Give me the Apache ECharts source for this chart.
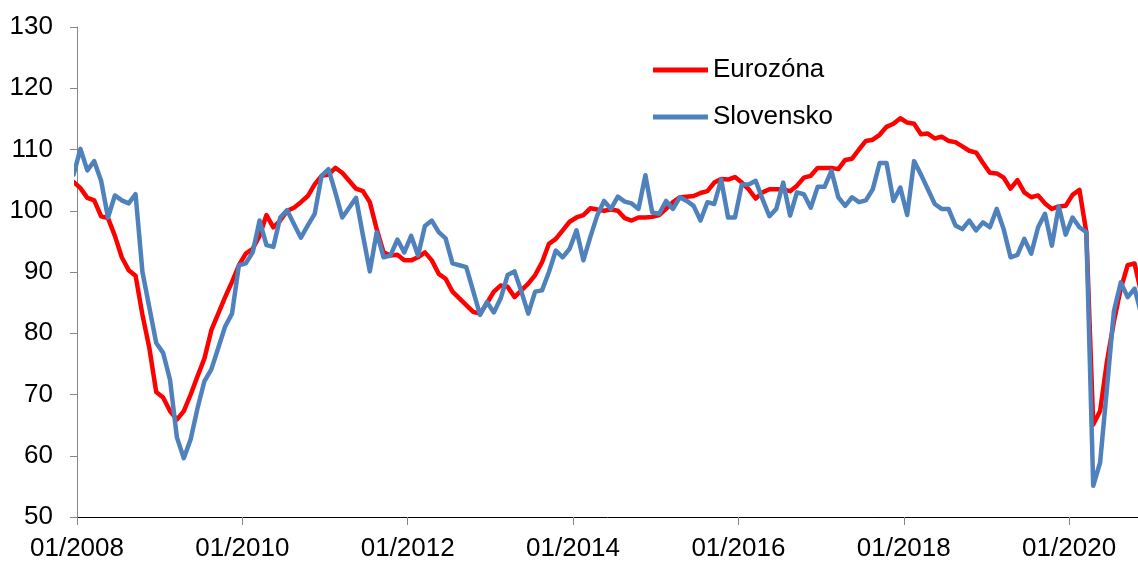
<!DOCTYPE html>
<html>
<head>
<meta charset="utf-8">
<script src="https://cdn.jsdelivr.net/npm/echarts@6/dist/echarts.min.js"></script>
<style>
  html, body { margin: 0; padding: 0; background: #fff; }
  #chart { width: 1138px; height: 562px; }
</style>
</head>
<body>
<div id="chart"></div>
<script>
// monthly values, first entry = 12/2007 (clipped at the y axis), last = 11/2020
const firstYear = 2007
const firstMonth = 12

const eurozona = [
  104.7,
  103.7, 102.1, 101.7, 99.1, 98.8, 95.9, 92.4, 90.3, 89.4, 83.0, 77.6, 70.4,
  69.5, 67.3, 65.9, 67.3, 70.0, 73.0, 75.9, 80.5, 83.2, 85.9, 88.4, 91.1,
  93.0, 93.8, 95.9, 99.3, 97.3, 98.4, 100.0, 100.5, 101.4, 102.4, 104.3, 105.7,
  105.9, 107.0, 106.2, 104.9, 103.6, 103.2, 101.4, 97.0, 93.2, 92.7, 92.8, 91.9,
  91.9, 92.4, 93.2, 91.9, 89.7, 88.9, 86.8, 85.7, 84.6, 83.5, 83.2, 84.9,
  86.8, 87.8, 87.6, 85.9, 87.0, 88.1, 89.5, 91.6, 94.6, 95.4, 96.8, 98.2,
  98.9, 99.3, 100.4, 100.2, 100.0, 100.2, 100.0, 98.8, 98.4, 98.9, 98.9, 99.0,
  99.3, 100.3, 101.4, 102.2, 102.3, 102.4, 102.9, 103.2, 104.6, 105.2, 105.1, 105.5,
  104.6, 103.5, 102.0, 103.0, 103.5, 103.5, 103.5, 103.2, 104.1, 105.4, 105.7, 107.0,
  107.0, 107.0, 106.8, 108.3, 108.5, 110.0, 111.4, 111.6, 112.4, 113.7, 114.2, 115.1,
  114.4, 114.2, 112.5, 112.6, 111.8, 112.1, 111.4, 111.2, 110.5, 109.8, 109.5, 107.8,
  106.2, 106.1, 105.4, 103.6, 105.0, 103.0, 102.2, 102.5, 101.2, 100.3, 100.7, 100.8,
  102.6, 103.4, 96.5, 65.1, 67.3, 75.4, 81.9, 87.3, 91.1, 91.4, 86.4
]

const slovensko = [
  105.9,
  110.1, 106.6, 108.1, 104.9, 98.9, 102.5, 101.7, 101.2, 102.7, 90.0, 84.2, 78.4,
  76.8, 72.4, 63.0, 59.6, 62.7, 67.8, 72.2, 74.1, 77.6, 81.1, 83.2, 91.1,
  91.4, 93.2, 98.4, 94.4, 94.1, 98.9, 100.1, 97.8, 95.6, 97.6, 99.5, 105.7,
  106.8, 103.0, 98.9, 100.5, 102.1, 96.0, 90.1, 96.5, 92.4, 92.7, 95.3, 93.2,
  95.9, 92.7, 97.5, 98.4, 96.5, 95.5, 91.4, 91.1, 90.8, 86.9, 83.0, 85.1,
  83.4, 85.7, 89.5, 90.1, 86.8, 83.2, 86.8, 87.0, 90.0, 93.5, 92.4, 93.8,
  96.8, 91.9, 95.7, 99.2, 101.6, 100.3, 102.3, 101.5, 101.2, 100.3, 105.8, 99.7,
  99.5, 101.6, 100.3, 102.2, 101.6, 100.8, 98.4, 101.4, 101.1, 105.1, 98.9, 98.9,
  104.3, 104.3, 104.9, 101.9, 99.1, 100.3, 104.6, 99.2, 103.0, 102.7, 100.5, 103.9,
  103.9, 106.5, 102.2, 100.8, 102.2, 101.4, 101.7, 103.5, 107.8, 107.8, 101.6, 103.8,
  99.3, 108.1, 105.9, 103.5, 101.1, 100.3, 100.3, 97.6, 97.0, 98.4, 96.8, 98.1,
  97.3, 100.3, 97.0, 92.4, 92.8, 95.4, 93.0, 97.3, 99.5, 94.3, 100.7, 96.1,
  98.9, 97.3, 96.5, 55.1, 58.9, 71.1, 83.6, 88.3, 85.9, 87.3, 83.0
]

const tickYears = [2008, 2010, 2012, 2014, 2016, 2018, 2020]
const yTicks = [50, 60, 70, 80, 90, 100, 110, 120, 130]

// x = months since 01/2008, each value placed mid-month
const monthPos = (k) => (firstYear - 2008) * 12 + (firstMonth - 1) + k + 0.5
const toPoints = (arr) => arr.map((v, k) => [monthPos(k), v])

const font = 'Liberation Sans, Arial, sans-serif'
const chart = echarts.init(document.getElementById('chart'))

chart.setOption({
  backgroundColor: '#fff',
  animation: false,
  grid: { left: 77, right: 0, top: 27, bottom: 42, containLabel: false },
  legend: {
    orient: 'vertical',
    left: 653,
    top: 57,
    padding: 0,
    itemGap: 21,
    itemWidth: 55,
    itemHeight: 5,
    icon: 'rect',
    textStyle: { fontFamily: font, fontSize: 26, color: '#000', lineHeight: 26 },
    data: ['Eurozóna', 'Slovensko']
  },
  xAxis: {
    type: 'value',
    min: 0,
    max: 154,
    interval: 24,
    splitLine: { show: false },
    axisLine: { show: true, lineStyle: { color: '#000', width: 1 } },
    axisTick: { show: true, length: 8, lineStyle: { color: '#868686' } },
    axisLabel: {
      showMaxLabel: false,
      margin: 19,
      fontFamily: font,
      fontSize: 26,
      color: '#000',
      formatter: (v) => {
        const y = 2008 + v / 12
        return tickYears.includes(y) ? '01/' + y : ''
      }
    }
  },
  yAxis: {
    type: 'value',
    min: yTicks[0],
    max: yTicks[yTicks.length - 1],
    interval: 10,
    splitLine: { show: false },
    axisLine: { show: true, lineStyle: { color: '#868686', width: 1 } },
    axisTick: { show: true, length: 7, lineStyle: { color: '#868686' } },
    axisLabel: { margin: 24, fontFamily: font, fontSize: 26, color: '#000' }
  },
  series: [
    {
      name: 'Eurozóna',
      type: 'line',
      data: toPoints(eurozona),
      showSymbol: false,
      symbol: 'none',
      clip: true,
      itemStyle: { color: '#FF0000' },
      lineStyle: { color: '#FF0000', width: 4.5, join: 'round', cap: 'round' }
    },
    {
      name: 'Slovensko',
      type: 'line',
      data: toPoints(slovensko),
      showSymbol: false,
      symbol: 'none',
      clip: true,
      itemStyle: { color: '#4F81BD' },
      lineStyle: { color: '#4F81BD', width: 4.5, join: 'round', cap: 'round' }
    }
  ]
})
</script>
</body>
</html>
